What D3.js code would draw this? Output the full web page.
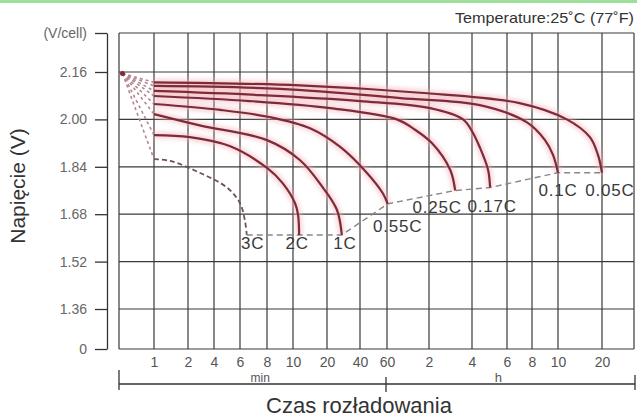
<!DOCTYPE html>
<html>
<head>
<meta charset="utf-8">
<script src="https://cdn.jsdelivr.net/npm/d3@7"></script>
<style>
  html, body { margin: 0; padding: 0; background: #fff; }
  svg { display: block; font-family: "Liberation Sans", Arial, sans-serif; }
</style>
</head>
<body>
<svg id="chart" width="637" height="419"></svg>
<script>
// time axis ticks: minutes, then hours
const minTicks = [1, 2, 4, 6, 8, 10, 20, 40, 60];
const hourTicks = [2, 4, 6, 8, 10, 20];
const voltTicks = [0, 1.36, 1.52, 1.68, 1.84, 2.00, 2.16];
const rates = ["3C", "2C", "1C", "0.55C", "0.25C", "0.17C", "0.1C", "0.05C"];

// discharge curves: [minutes, V/cell]
const c3   = [[1, 1.866], [1.47, 1.86], [2.9, 1.82], [5, 1.77], [6, 1.717], [6.37, 1.657], [6.5, 1.61]];
const c2   = [[1, 1.947], [2.15, 1.94], [5.2, 1.91], [8, 1.836], [9.2, 1.785], [10.6, 1.717], [11.5, 1.677], [11.8, 1.61]];
const c1   = [[1, 2.018], [2.9, 1.98], [8, 1.93], [12, 1.863], [18.8, 1.77], [26, 1.695], [29, 1.61]];
const c055 = [[1, 2.052], [4.5, 2.032], [8.2, 2.008], [15, 1.97], [28, 1.907], [45, 1.82], [57, 1.75], [61, 1.715]];
const c025 = [[1, 2.079], [6.7, 2.062], [22, 2.038], [74, 2.0], [100, 1.965], [128, 1.92], [179, 1.83], [193, 1.76]];
const c017 = [[1, 2.096], [7.5, 2.082], [40, 2.062], [123, 2.038], [215, 2.0], [240, 1.96], [267, 1.905], [295, 1.83], [302, 1.77]];
const c01  = [[1, 2.113], [9, 2.103], [79, 2.072], [267, 2.048], [456, 1.99], [540, 1.93], [577, 1.88], [600, 1.82]];
const c005 = [[1, 2.125], [12, 2.115], [107, 2.09], [420, 2.055], [720, 2.0], [1035, 1.94], [1145, 1.88], [1200, 1.82]];
const curves = [c3, c2, c1, c055, c025, c017, c01, c005];
const startPoint = [0.1, 2.155];

// layout
const mLeft = 119, mTop = 33, W = 515, H = 316;
const gridPx = [35, 69, 95, 121, 148, 174, 208, 241, 268, 310, 353, 388, 413, 439, 483];
const tMax = 1640, vTop = 2.292;
// label offsets from each curve end point [dx, dy]
const labelOff = [[6, 14], [-2, 14], [3, 14], [10, 28], [-18, 22], [2, 24], [0, 23], [8, 23]];

const timeTicks = minTicks.concat(hourTicks.map(h => h * 60));
const x = d3.scaleLinear().domain([0, ...timeTicks, tMax]).range([0, ...gridPx, W]);
const y = d3.scaleLinear().domain([0, 1.36, 2.16, vTop]).range([H, H - 40, 39, 0]);

const svg = d3.select("#chart");

const defs = svg.append("defs");
defs.append("filter").attr("id", "glow")
  .attr("x", "-20%").attr("y", "-20%").attr("width", "140%").attr("height", "140%")
  .append("feGaussianBlur").attr("stdDeviation", 2.2);

// green strip at the top
svg.append("rect").attr("x", 0).attr("y", 0).attr("width", 637).attr("height", 3).attr("fill", "#9ddf98");

svg.append("text")
  .attr("x", 634).attr("y", 23)
  .attr("text-anchor", "end")
  .attr("font-size", 15)
  .attr("fill", "#333")
  .attr("textLength", 179).attr("lengthAdjust", "spacingAndGlyphs")
  .text("Temperature:25˚C (77˚F)");

const g = svg.append("g").attr("transform", `translate(${mLeft},${mTop})`);

// grid
g.append("g").selectAll("line").data(voltTicks.concat([vTop])).join("line")
  .attr("x1", 0).attr("x2", W)
  .attr("y1", d => y(d)).attr("y2", d => y(d))
  .attr("stroke", "#3a3a3a").attr("stroke-width", 1.2);
g.append("g").selectAll("line").data([0, ...timeTicks, tMax]).join("line")
  .attr("x1", d => x(d)).attr("x2", d => x(d))
  .attr("y1", 0).attr("y2", H)
  .attr("stroke", "#3a3a3a").attr("stroke-width", 1.2);

// y axis (separate line to the left of the grid)
const yAxis = d3.axisLeft(y)
  .tickValues(voltTicks.concat([vTop]))
  .tickSize(12).tickSizeOuter(0).tickPadding(8)
  .tickFormat(d => d === 0 ? "0" : d > 2.2 ? "(V/cell)" : d.toFixed(2));
const ya = svg.append("g").attr("transform", `translate(107,${mTop})`).call(yAxis);
ya.select(".domain").attr("stroke", "#333").attr("stroke-width", 1.3);
ya.selectAll(".tick line").attr("stroke", "#333").attr("stroke-width", 1.3);
ya.selectAll(".tick text").attr("font-size", 14).attr("fill", "#666")
  .attr("font-family", "Liberation Sans, Arial, sans-serif");

// x axis labels
const xAxis = d3.axisBottom(x)
  .tickValues(timeTicks)
  .tickSize(0).tickPadding(8)
  .tickFormat(d => d > 60 ? String(d / 60) : String(d));
const xa = g.append("g").attr("transform", `translate(0,${H})`).call(xAxis);
xa.select(".domain").remove();
xa.selectAll(".tick text").attr("font-size", 14).attr("fill", "#555")
  .attr("font-family", "Liberation Sans, Arial, sans-serif");

// min / h bracket
const by = H + 35;
const br = g.append("g").attr("stroke", "#333").attr("stroke-width", 1.3);
br.append("line").attr("x1", x(0)).attr("x2", W + 1).attr("y1", by).attr("y2", by);
br.append("line").attr("x1", x(0)).attr("x2", x(0)).attr("y1", by - 14).attr("y2", by + 6);
br.append("line").attr("x1", x(60) - 1).attr("x2", x(60) - 1).attr("y1", by - 7).attr("y2", by + 8);
br.append("line").attr("x1", W + 1).attr("x2", W + 1).attr("y1", by - 9).attr("y2", by + 6);
g.append("text").attr("x", x(7.5)).attr("y", by - 2).attr("text-anchor", "middle")
  .attr("font-size", 12).attr("fill", "#555").text("min");
g.append("text").attr("x", x(330)).attr("y", by - 2).attr("text-anchor", "middle")
  .attr("font-size", 13).attr("fill", "#555").text("h");

// axis titles
svg.append("text").attr("x", 359).attr("y", 413).attr("text-anchor", "middle")
  .attr("font-size", 22).attr("fill", "#333").text("Czas rozładowania");
svg.append("text").attr("transform", "translate(25,186) rotate(-90)").attr("text-anchor", "middle")
  .attr("font-size", 21).attr("fill", "#333").text("Napięcie (V)");

// curves
const line = d3.line().x(d => x(d[0])).y(d => y(d[1])).curve(d3.curveCatmullRom.alpha(0.5));

// pink halo
g.append("g").attr("filter", "url(#glow)").selectAll("path").data(curves.slice(1)).join("path")
  .attr("d", line).attr("fill", "none")
  .attr("stroke", "#f3b3bb").attr("stroke-width", 7).attr("opacity", 0.55);

// fan from the start point
g.append("g").selectAll("line").data(curves).join("line")
  .attr("x1", x(startPoint[0])).attr("y1", y(startPoint[1]))
  .attr("x2", d => x(d[0][0])).attr("y2", d => y(d[0][1]))
  .attr("stroke", "#b58790").attr("stroke-width", 1.6).attr("stroke-dasharray", "3,3");
g.append("circle").attr("cx", x(startPoint[0])).attr("cy", y(startPoint[1])).attr("r", 2.5).attr("fill", "#7d2b38");

// end line through the final points
const ends = curves.map(c => c[c.length - 1]);
g.append("path").attr("d", d3.line().x(d => x(d[0])).y(d => y(d[1]))(ends))
  .attr("fill", "none").attr("stroke", "#888").attr("stroke-width", 1.4).attr("stroke-dasharray", "6,4");

g.append("g").selectAll("path").data(curves).join("path")
  .attr("d", line).attr("fill", "none")
  .attr("stroke", (d, i) => i === 0 ? "#6e5358" : "#7d2b38")
  .attr("stroke-width", (d, i) => i === 0 ? 1.8 : 2.2)
  .attr("stroke-dasharray", (d, i) => i === 0 ? "5,3" : null);

// rate labels
g.append("g").selectAll("text").data(rates).join("text")
  .attr("x", (d, i) => x(ends[i][0]) + labelOff[i][0])
  .attr("y", (d, i) => y(ends[i][1]) + labelOff[i][1])
  .attr("text-anchor", "middle")
  .attr("font-size", 17).attr("letter-spacing", 0.8)
  .attr("fill", "#3a3a3a")
  .text(d => d);
</script>
</body>
</html>
